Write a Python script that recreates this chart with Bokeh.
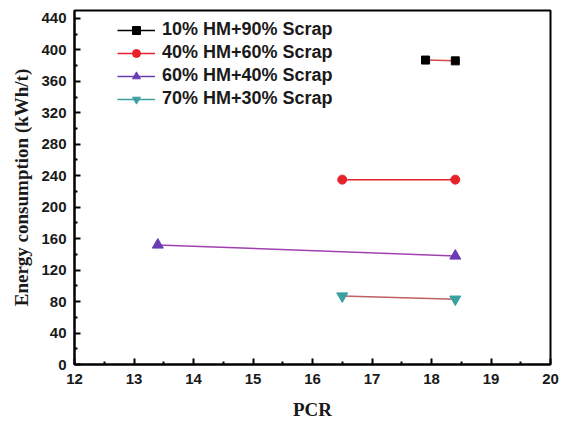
import numpy as np
from bokeh.plotting import figure
from bokeh.models import Range1d, Legend, LegendItem, FixedTicker
from bokeh.embed import file_html
from bokeh.resources import INLINE

# data
labels = ["10% HM+90% Scrap", "40% HM+60% Scrap", "60% HM+40% Scrap", "70% HM+30% Scrap"]
pcr_10 = [17.9, 18.4]
energy_10 = [387, 386]
pcr_40 = [16.5, 18.4]
energy_40 = [235, 235]
pcr_60 = [13.4, 18.4]
energy_60 = [152, 138]
pcr_70 = [16.5, 18.4]
energy_70 = [87, 83]
x_ticks = [12, 13, 14, 15, 16, 17, 18, 19, 20]
y_ticks = [0, 40, 80, 120, 160, 200, 240, 280, 320, 360, 400, 440]

series = [
    (pcr_10, energy_10, "black", "#d84848", "square", 8),
    (pcr_40, energy_40, "#e8202a", "#e8202a", "circle", 9),
    (pcr_60, energy_60, "#6a3cb4", "#a040b0", "triangle", 11),
    (pcr_70, energy_70, "#3aa0a0", "#c06060", "inverted_triangle", 11),
]

p = figure(width=561, height=422, output_backend="svg", toolbar_location=None,
           x_range=Range1d(12, 20), y_range=Range1d(0, 450),
           min_border_left=74, min_border_right=11, min_border_top=10, min_border_bottom=56)
p.grid.visible = False
p.outline_line_color = "black"
p.outline_line_width = 2

for ax in (p.xaxis[0], p.yaxis[0]):
    ax.axis_line_width = 2
    ax.major_tick_in = 6
    ax.major_tick_out = 0
    ax.minor_tick_in = 3
    ax.minor_tick_out = 0
    ax.major_tick_line_width = 2
    ax.minor_tick_line_width = 2
    ax.major_label_text_font = "Liberation Sans"
    ax.major_label_text_font_size = "15px"
    ax.major_label_text_font_style = "bold"
    ax.major_label_text_color = "#1a1a1a"
    ax.axis_label_text_font = "Liberation Serif"
    ax.axis_label_text_font_size = "19px"
    ax.axis_label_text_font_style = "bold"
    ax.axis_label_text_color = "#1a1a1a"

p.xaxis.ticker = FixedTicker(ticks=x_ticks, minor_ticks=[v + 0.5 for v in x_ticks[:-1]])
p.yaxis.ticker = FixedTicker(ticks=y_ticks, minor_ticks=[v + 20 for v in y_ticks])
p.xaxis.axis_label = "PCR"
p.yaxis.axis_label = "Energy consumption (kWh/t)"
p.xaxis.major_label_standoff = 9
p.yaxis.major_label_standoff = 8
p.xaxis.axis_label_standoff = 12
p.yaxis.axis_label_standoff = 6

items = []
for (xs, ys, col, lcol, mk, sz), lab in zip(series, labels):
    p.line(xs, ys, line_color=lcol, line_width=1.5)
    sr = p.scatter(xs, ys, marker=mk, size=sz, fill_color=col, line_color=col)
    dummy = p.line(x=[np.nan], y=[np.nan], line_color=col, line_width=1.5)
    items.append(LegendItem(label=lab, renderers=[dummy, sr]))

legend = Legend(items=items, location=(43, 255), border_line_color=None,
                background_fill_alpha=0, padding=0, margin=0, spacing=2,
                glyph_width=38, glyph_height=20, label_height=20, label_standoff=7,
                label_text_font="Liberation Sans", label_text_font_size="18px",
                label_text_font_style="bold", label_text_color="#1a1a1a")
p.add_layout(legend, "center")

open("out.html", "w").write(file_html(p, INLINE))
